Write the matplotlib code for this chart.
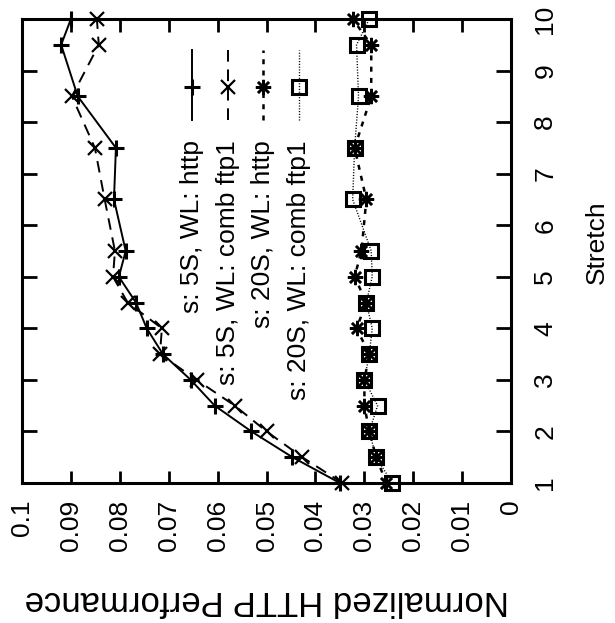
import matplotlib
matplotlib.use("Agg")
import matplotlib.pyplot as plt

plt.rcParams['font.family'] = ['Liberation Sans', 'DejaVu Sans']

stretch = [1, 1.5, 2, 2.5, 3, 3.5, 4, 4.5, 5, 5.5, 6.5, 7.5, 8.5, 9.5, 10]
s5_http = [0.0350, 0.0447, 0.0531, 0.0606, 0.0655, 0.0712, 0.0745, 0.0767,
           0.0802, 0.0788, 0.0812, 0.0808, 0.0886, 0.0920, 0.0900]
s5_comb = [0.0345, 0.0427, 0.0500, 0.0565, 0.0643, 0.0718, 0.0714, 0.0784,
           0.0814, 0.0810, 0.0831, 0.0851, 0.0898, 0.0843, 0.0847]
s20_http = [0.0255, 0.0276, 0.0290, 0.0300, 0.0300, 0.0290, 0.0316, 0.0296,
            0.0320, 0.0306, 0.0296, 0.0320, 0.0286, 0.0286, 0.0324]
s20_comb = [0.0243, 0.0276, 0.0290, 0.0273, 0.0300, 0.0290, 0.0284, 0.0296,
            0.0284, 0.0286, 0.0324, 0.0320, 0.0312, 0.0316, 0.0290]

labels = ['s: 5S, WL: http', 's: 5S, WL: comb ftp1',
          's: 20S, WL: http', 's: 20S, WL: comb ftp1']
perf_ticks = [0, 0.01, 0.02, 0.03, 0.04, 0.05, 0.06, 0.07, 0.08, 0.09, 0.1]
perf_ticklabels = ['0', '0.01', '0.02', '0.03', '0.04', '0.05', '0.06',
                   '0.07', '0.08', '0.09', '0.1']
stretch_ticks = [1, 2, 3, 4, 5, 6, 7, 8, 9, 10]

asterisk = (8, 2, 0)
styles = [
    dict(ls='-', marker='+', ms=12, mew=2.2, lw=1.4),
    dict(ls=(0, (6, 4)), marker='x', ms=10, mew=1.6, lw=1.4),
    dict(ls=(0, (2, 2.5)), marker=asterisk, ms=11, mew=1.8, lw=1.8),
    dict(ls=(0, (0.8, 1.2)), marker='s', ms=10, mew=2.2, lw=1.0, mfc='none'),
]
series = [s5_http, s5_comb, s20_http, s20_comb]

fig = plt.figure(figsize=(6.15, 6.23), dpi=100)
ax = fig.add_axes([0.0358, 0.2247, 0.7953, 0.7448])

# the figure is rotated: performance runs horizontally (reversed), stretch vertically
for vals, st in zip(series, styles):
    ax.plot(vals, stretch, color='black', clip_on=False, **st)

ax.set_xlim(0.1, 0)
ax.set_ylim(1, 10)
ax.set_xticks(perf_ticks)
ax.set_xticklabels(perf_ticklabels, rotation=90, va='top', ha='center')
ax.set_yticks(stretch_ticks)

ax.tick_params(axis='x', direction='in', top=True, bottom=True, length=9,
               width=2, pad=12, labelsize=19)
ax.tick_params(axis='y', direction='in', left=True, right=True, length=11,
               width=2, pad=16, labelsize=19, labelleft=False, labelright=True)
ax.set_yticklabels([str(s) for s in stretch_ticks], rotation=90,
                   va='center', ha='left')
for sp in ax.spines.values():
    sp.set_linewidth(2.2)

ax.set_xlabel('Normalized HTTP Performance', rotation=180, fontsize=25)
ax.xaxis.set_label_coords(0.5, -0.253)
ax.xaxis.label.set_va('center')
ax.yaxis.set_label_position('right')
ax.set_ylabel('Stretch', rotation=90, fontsize=19)
ax.yaxis.set_label_coords(1.175, 0.52)
ax.yaxis.label.set_va('center')
ax.yaxis.label.set_ha('center')

# hand-made rotated key, like the gnuplot one
key_x = [0.3476, 0.4213, 0.4928, 0.5665]
for kx, lab, st in zip(key_x, labels, styles):
    ax.plot([kx, kx], [0.7823, 0.9332], color='black', transform=ax.transAxes,
            ls=st['ls'], lw=st['lw'])
    ax.plot([kx], [0.8534], color='black', transform=ax.transAxes,
            marker=st['marker'], ms=st['ms'], mew=st['mew'],
            mfc=st.get('mfc', 'black'))
    ax.text(kx, 0.7392, lab, transform=ax.transAxes, rotation=90,
            rotation_mode='anchor', ha='right', va='center', fontsize=19)

fig.savefig('out.png', dpi=100)
